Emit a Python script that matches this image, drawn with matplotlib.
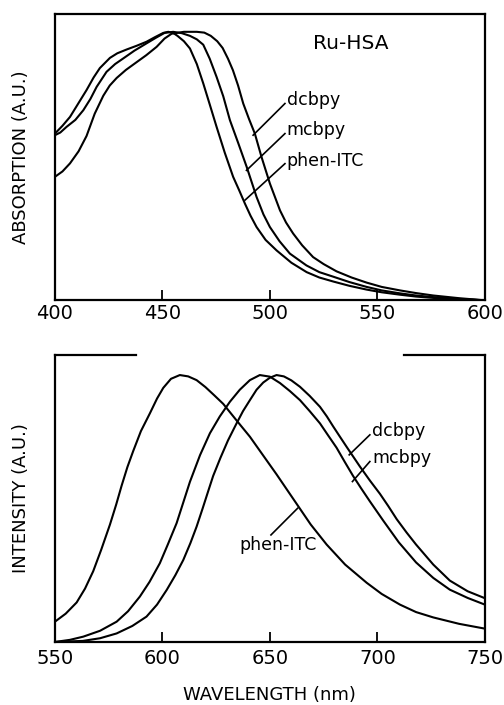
import matplotlib
matplotlib.use("Agg")
import matplotlib.pyplot as plt
from matplotlib.lines import Line2D

# ---------------- data: absorption (top) ----------------
abs_dcbpy_wl = [400, 403.5, 407, 411, 414.7, 418.5, 422.5, 425.5, 428.7, 433, 438, 442.5, 447.3,
                451, 454.3, 460, 466, 469.5, 472.5, 475.5, 478, 480.5, 482.8, 485.2, 487.6, 490.3,
                493, 496.1, 500, 504.7, 507.5, 510.8, 515, 520.1, 525, 531, 538, 545, 552, 560.5,
                568, 576, 588, 600]
abs_dcbpy_v = [0.46, 0.48, 0.51, 0.555, 0.612, 0.695, 0.762, 0.8, 0.828, 0.858, 0.887, 0.913, 0.944,
               0.975, 0.993, 1.0, 1.0, 0.997, 0.985, 0.965, 0.94, 0.9, 0.857, 0.8, 0.733, 0.675,
               0.621, 0.534, 0.435, 0.335, 0.29, 0.249, 0.205, 0.161, 0.135, 0.108, 0.085, 0.066, 0.05, 0.037,
               0.027, 0.018, 0.008, 0.0]

abs_mcbpy_wl = [400, 402.5, 405.4, 409.5, 413.2, 416.5, 419.4, 424, 428, 431.8, 437, 442.6, 447,
                451, 455, 459, 462.8, 466, 469, 472, 475.2, 478.3, 481.4, 485.3, 489.2, 493.8, 497,
                500, 504.5, 509.3, 517, 523, 529.5, 537, 545, 552, 560.5, 568, 576, 588, 600]
abs_mcbpy_v = [0.615, 0.625, 0.646, 0.672, 0.708, 0.75, 0.795, 0.851, 0.88, 0.901, 0.93, 0.957, 0.978,
               0.996, 1.0, 0.995, 0.985, 0.972, 0.952, 0.9, 0.832, 0.76, 0.671, 0.585, 0.497, 0.385, 0.32,
               0.273, 0.22, 0.174, 0.13, 0.105, 0.088, 0.068, 0.05, 0.037, 0.026, 0.018, 0.012, 0.005, 0.0]

abs_phen_wl = [400, 403.5, 407, 411, 414.7, 418, 420.9, 425.6, 429, 433.3, 438, 442.6, 446.5, 450.4,
               452.7, 455, 457, 460, 462.8, 466, 469, 472, 475.2, 479, 482.9, 485.7, 488.4, 491, 493.8,
               498, 503.1, 510, 517.1, 523, 529.5, 537, 545, 552, 560.5, 568, 576, 588, 600]
abs_phen_v = [0.621, 0.65, 0.683, 0.735, 0.783, 0.83, 0.865, 0.903, 0.92, 0.934, 0.948, 0.963, 0.98, 0.996,
              1.0, 0.996, 0.985, 0.965, 0.938, 0.88, 0.808, 0.73, 0.646, 0.55, 0.46, 0.41, 0.36, 0.315, 0.273,
              0.225, 0.186, 0.14, 0.105, 0.085, 0.07, 0.054, 0.04, 0.03, 0.021, 0.014, 0.009, 0.004, 0.0]

# ---------------- data: emission (bottom) ----------------
em_phen_wl = [550, 555, 560.1, 564, 567.8, 571.5, 575.6, 578.5, 581, 583.7, 586.4, 590, 594.2, 597.5,
              600.4, 604, 608.1, 612, 615.9, 620, 624, 628.3, 634.5, 640.7, 646.5, 653.1, 658, 662.4,
              669, 676.4, 685, 695, 702, 710.5, 718, 726, 738, 750]
em_phen_v = [0.076, 0.106, 0.148, 0.2, 0.265, 0.345, 0.44, 0.515, 0.585, 0.655, 0.715, 0.79, 0.857, 0.912,
             0.952, 0.986, 1.0, 0.995, 0.981, 0.955, 0.925, 0.892, 0.83, 0.769, 0.703, 0.628, 0.57, 0.518,
             0.44, 0.365, 0.29, 0.222, 0.18, 0.14, 0.112, 0.092, 0.068, 0.05]

em_mcbpy_wl = [550, 557, 563.2, 571, 578.7, 584, 589.5, 594, 598.8, 602.5, 606.6, 609.8, 612.8, 617.5,
               622.1, 626.7, 631.4, 636, 640.7, 645.3, 650, 654.7, 659.3, 664, 668.5, 673.3, 677, 681,
               684.8, 688.7, 692.5, 696.5, 702.7, 710, 718, 726, 733.7, 742, 750]
em_mcbpy_v = [0.0, 0.008, 0.02, 0.042, 0.076, 0.115, 0.17, 0.225, 0.295, 0.365, 0.445, 0.525, 0.6, 0.7,
              0.782, 0.845, 0.9, 0.945, 0.981, 1.0, 0.994, 0.97, 0.94, 0.906, 0.865, 0.819, 0.775, 0.728,
              0.675, 0.622, 0.575, 0.527, 0.455, 0.373, 0.298, 0.24, 0.196, 0.165, 0.14]

em_dcbpy_wl = [550, 563, 571, 578.7, 586, 592.6, 597.5, 602, 606, 609.7, 613, 615.9, 618.7, 621.3, 623.6,
               627, 630.5, 634.5, 637.5, 640.7, 643.8, 646.9, 650, 653.1, 656.5, 660, 664, 668.5, 673.3,
               676.5, 679.4, 682.5, 685.7, 688.8, 691.9, 696.5, 701.2, 705, 709, 713.6, 718, 726, 733.7,
               742, 750]
em_dcbpy_v = [0.0, 0.004, 0.014, 0.032, 0.06, 0.095, 0.14, 0.195, 0.25, 0.307, 0.37, 0.432, 0.5, 0.565, 0.622,
              0.69, 0.755, 0.819, 0.865, 0.906, 0.945, 0.972, 0.99, 1.0, 0.995, 0.98, 0.956, 0.922, 0.881,
              0.845, 0.808, 0.77, 0.731, 0.694, 0.657, 0.605, 0.555, 0.51, 0.46, 0.41, 0.365, 0.29, 0.23,
              0.19, 0.164]

abs_ticks = [400, 450, 500, 550, 600]
em_ticks = [550, 600, 650, 700, 750]

LW = 1.5
plt.rcParams['font.family'] = "DejaVu Sans"

fig = plt.figure(figsize=(5.04, 7.05), dpi=100)

# ---------------- top panel ----------------
ax1 = fig.add_axes([0.109, 0.574, 0.853, 0.406])
for wl, v in [(abs_dcbpy_wl, abs_dcbpy_v), (abs_mcbpy_wl, abs_mcbpy_v), (abs_phen_wl, abs_phen_v)]:
    ax1.plot(wl, v, color='black', lw=LW, solid_capstyle='round', solid_joinstyle='round')
ax1.set_xlim(400, 600)
ax1.set_ylim(0, 1.066)
ax1.set_xticks(abs_ticks)
ax1.set_yticks([])
ax1.tick_params(axis='x', direction='in', length=7, width=1.3, labelsize=14, pad=3)
for s in ax1.spines.values():
    s.set_linewidth(1.6)
ax1.set_ylabel("ABSORPTION (A.U.)", fontsize=13, labelpad=18)

ax1.text(537.5, 0.957, "Ru-HSA", fontsize=14.5, ha='center', va='center')
for (x0, y0, x1, y1, lab, ty) in [(492.2, 0.615, 507, 0.733, "dcbpy", 0.745),
                                   (489.1, 0.484, 507, 0.621, "mcbpy", 0.633),
                                   (488.4, 0.373, 507, 0.509, "phen-ITC", 0.52)]:
    ax1.plot([x0, x1], [y0, y1], color='black', lw=1.2)
    ax1.text(507.8, ty, lab, fontsize=12.5, ha='left', va='center')

# ---------------- bottom panel ----------------
ax2 = fig.add_axes([0.109, 0.0894, 0.853, 0.407])
for wl, v in [(em_dcbpy_wl, em_dcbpy_v), (em_mcbpy_wl, em_mcbpy_v), (em_phen_wl, em_phen_v)]:
    ax2.plot(wl, v, color='black', lw=LW, solid_capstyle='round', solid_joinstyle='round')
ax2.set_xlim(550, 750)
ax2.set_ylim(0, 1.075)
ax2.set_xticks(em_ticks)
ax2.set_yticks([])
ax2.tick_params(axis='x', direction='in', length=7, width=1.3, labelsize=14, pad=5)
for s in ax2.spines.values():
    s.set_linewidth(1.6)
ax2.spines['top'].set_visible(False)
# broken top frame
for xa, xb in [(0.0, 0.188), (0.812, 1.0)]:
    ax2.add_line(Line2D([xa, xb], [1, 1], transform=ax2.transAxes, color='black',
                        lw=1.6, clip_on=False))
ax2.set_ylabel("INTENSITY (A.U.)", fontsize=13, labelpad=18)
ax2.set_xlabel("WAVELENGTH (nm)", fontsize=13, labelpad=13)

for (x0, y0, x1, y1, lab, ty) in [(686.9, 0.701, 696.5, 0.776, "dcbpy", 0.79),
                                   (688.4, 0.601, 696.5, 0.676, "mcbpy", 0.69)]:
    ax2.plot([x0, x1], [y0, y1], color='black', lw=1.2)
    ax2.text(697.5, ty, lab, fontsize=12.5, ha='left', va='center')
ax2.plot([662.9, 650.5], [0.501, 0.401], color='black', lw=1.2)
ax2.text(654, 0.365, "phen-ITC", fontsize=12.5, ha='center', va='center')

fig.savefig("out.png", dpi=100)
